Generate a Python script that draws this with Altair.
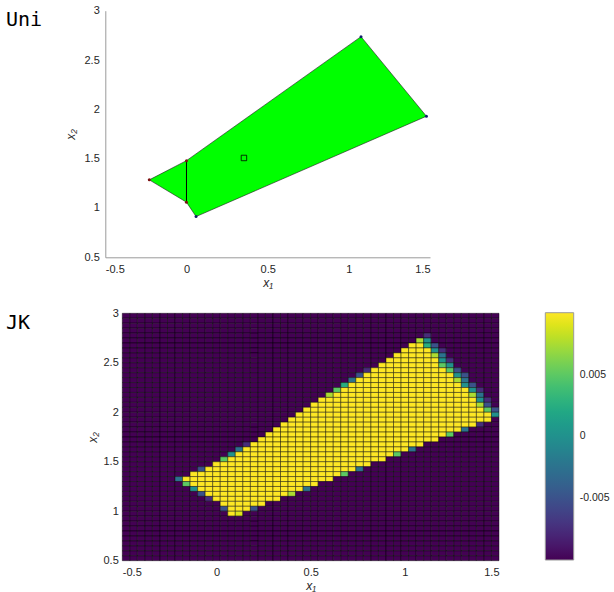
import altair as alt
import pandas as pd

# ---------------- top panel ("Uni") ----------------
poly_x = [-0.229, 0.0, 1.075, 1.478, 0.059, 0.0, -0.229]
poly_y = [1.285, 1.48, 2.737, 1.930, 0.913, 1.059, 1.285]
split_x = [0.0]
split_y1 = [1.059]
split_y2 = [1.48]
red_x = [-0.229, 0.0, 0.0]
red_y = [1.285, 1.48, 1.059]
blue_x = [1.075, 1.478, 0.059]
blue_y = [2.737, 1.930, 0.913]
mark_x = [0.354]
mark_y = [1.507]

# ---------------- bottom panel ("JK") ----------------
n_cols, n_rows = 50, 50
x_start, x_step = -0.5, 0.04
y_top, y_step = 3.0, 0.05
low_value, high_value = -0.01, 0.01
# rows counted from the top: (first, last) column of the saturated cells
yellow_span = {
    6: (38, 39), 7: (37, 40), 8: (36, 40), 9: (35, 41), 10: (34, 41),
    11: (33, 42), 12: (32, 43), 13: (31, 43), 14: (30, 44), 15: (29, 45),
    16: (28, 45), 17: (26, 46), 18: (25, 46), 19: (24, 47), 20: (23, 48),
    21: (22, 48), 22: (21, 46), 23: (20, 44), 24: (19, 42), 25: (18, 41),
    26: (17, 39), 27: (16, 37), 28: (15, 35), 29: (14, 34), 30: (12, 32),
    31: (11, 30), 32: (9, 28), 33: (8, 27), 34: (9, 25), 35: (10, 23),
    36: (11, 21), 37: (12, 20), 38: (13, 18), 39: (14, 16), 40: (14, 14),
}
level = {"a": -0.0075, "b": -0.005, "c": -0.0025, "d": 0.0,
         "e": 0.0025, "f": 0.005, "g": 0.0075, "h": 0.009}
edge_cells = [
    (11, 32, "a"), (12, 31, "b"), (13, 30, "c"), (14, 29, "e"), (15, 28, "f"),
    (16, 27, "g"), (26, 16, "a"), (27, 15, "c"), (28, 14, "d"), (29, 13, "f"),
    (31, 10, "b"), (33, 7, "c"), (34, 8, "f"), (35, 9, "d"), (36, 10, "b"),
    (37, 11, "a"), (39, 13, "b"),
    (4, 40, "a"), (5, 39, "g"), (5, 40, "d"), (6, 40, "e"), (6, 41, "b"),
    (7, 41, "d"), (7, 42, "a"), (8, 41, "g"), (8, 42, "c"), (9, 42, "d"),
    (9, 43, "a"), (10, 42, "f"), (10, 43, "d"), (11, 43, "f"), (11, 44, "b"),
    (12, 44, "d"), (12, 45, "b"), (13, 44, "g"), (13, 45, "c"), (14, 45, "d"),
    (14, 46, "b"), (15, 46, "d"), (15, 47, "a"), (16, 46, "g"), (16, 47, "c"),
    (17, 47, "d"), (17, 48, "a"), (18, 47, "g"), (18, 48, "b"), (19, 48, "f"),
    (19, 49, "b"), (20, 49, "d"),
    (22, 47, "a"), (23, 45, "c"), (24, 43, "f"), (27, 38, "c"), (28, 36, "f"),
    (31, 31, "c"), (32, 29, "f"), (35, 24, "c"), (36, 22, "g"), (39, 17, "b"),
    (40, 15, "h"),
]
cbar_ticks = [-0.005, 0.0, 0.005]
x_ticks = [-0.5, 0, 0.5, 1, 1.5]
y_ticks = [0.5, 1, 1.5, 2, 2.5, 3]

# ---------------- tables ----------------
poly_df = pd.DataFrame({"i": list(range(len(poly_x))), "x": poly_x, "y": poly_y})
split_df = pd.DataFrame({"x": split_x, "y": split_y1, "y2": split_y2})
red_df = pd.DataFrame({"x": red_x, "y": red_y})
blue_df = pd.DataFrame({"x": blue_x, "y": blue_y})
mark_df = pd.DataFrame({"x": mark_x, "y": mark_y})

values = {}
for r in range(n_rows):
    for c in range(n_cols):
        v = low_value
        if r in yellow_span and yellow_span[r][0] <= c <= yellow_span[r][1]:
            v = high_value
        values[(r, c)] = v
for r, c, k in edge_cells:
    values[(r, c)] = level[k]
cells = []
for (r, c), v in values.items():
    x0 = x_start + c * x_step
    y1 = y_top - r * y_step
    cells.append({"x0": x0, "x1": x0 + x_step, "y0": y1 - y_step, "y1": y1, "v": v})
heat_df = pd.DataFrame(cells)

# ---------------- styling ----------------
FONT = "Liberation Sans"
fix_minus = "replace(datum.label, '\u2212', '-')"


def axis(orient, offset, vals, title, lpad, domain=True, title_x=None, title_y=None):
    extra = {}
    if title_x is not None:
        extra["titleX"] = title_x
    if title_y is not None:
        extra["titleY"] = title_y
        extra["titleBaseline"] = "alphabetic"
    return alt.Axis(orient=orient, offset=offset, values=vals, title=title,
                    format="~g", grid=False, domain=domain, domainColor="#9a9a9a",
                    tickSize=0, labelPadding=lpad, labelFont=FONT,
                    labelFontSize=11, labelColor="#262626", labelExpr=fix_minus,
                    titleFont=FONT, titleFontSize=12, titleFontStyle="italic",
                    titleFontWeight="normal", titleColor="#262626", **extra)


W, H = 614, 592
tx = alt.X("x:Q", scale=alt.Scale(domain=[-0.5, 1.5], range=[105.3, 430]),
           axis=axis("bottom", 257.3 - H, x_ticks, "x\u2081", 6, title_y=29))
ty = alt.Y("y:Q", scale=alt.Scale(domain=[0.5, 3], range=[257.3, 10.7]),
           axis=axis("left", -105.3, y_ticks, "x\u2082", 6, title_x=-28))

poly = alt.Chart(poly_df).mark_line(fill="#00ff00", stroke="#1a1a1a",
                                    strokeWidth=0.6).encode(x=tx, y=ty, order="i:Q")
split = alt.Chart(split_df).mark_rule(color="black", strokeWidth=1).encode(
    x=tx, y=ty, y2="y2:Q")
red = alt.Chart(red_df).mark_point(filled=True, size=9, color="#7a1010",
                                   opacity=1).encode(x=tx, y=ty)
blue = alt.Chart(blue_df).mark_point(filled=True, size=9, color="#10206a",
                                     opacity=1).encode(x=tx, y=ty)
sq = alt.Chart(mark_df).mark_point(shape="square", filled=False, size=30,
                                   color="black", strokeWidth=0.8,
                                   opacity=1).encode(x=tx, y=ty)
uni = alt.Chart(pd.DataFrame({"t": ["Uni"]})).mark_text(
    font="DejaVu Sans Mono", fontSize=20, align="left", baseline="alphabetic",
    color="black").encode(text="t:N", x=alt.value(6), y=alt.value(26))
top = alt.layer(poly, split, red, blue, sq, uni)

bx = alt.X("x0:Q", scale=alt.Scale(domain=[-0.5, 1.5], range=[122.3, 499]),
           axis=axis("bottom", 560.7 - H, x_ticks, "x\u2081", 6, domain=False,
                     title_y=29))
by = alt.Y("y0:Q", scale=alt.Scale(domain=[0.5, 3], range=[560.7, 313.3]),
           axis=axis("left", -122.3, y_ticks, "x\u2082", 4, domain=False,
                     title_x=-23))
heat = alt.Chart(heat_df).mark_rect(stroke="black", strokeWidth=0.6,
                                    strokeOpacity=0.75).encode(
    x=bx, x2="x1:Q", y=by, y2="y1:Q",
    color=alt.Color("v:Q", scale=alt.Scale(scheme="viridis", domain=[low_value, high_value]),
                    legend=alt.Legend(orient="none", legendX=545.3, legendY=312.7,
                                      direction="vertical", title=None, format="~g",
                                      gradientLength=247.3, gradientThickness=28.4,
                                      gradientStrokeColor="#9a9a9a", gradientStrokeWidth=1,
                                      values=cbar_ticks, labelFont=FONT, labelFontSize=10.5,
                                      labelColor="#262626", labelOffset=6,
                                      labelExpr=fix_minus)))
jk = alt.Chart(pd.DataFrame({"t": ["JK"]})).mark_text(
    font="DejaVu Sans Mono", fontSize=20, align="left", baseline="alphabetic",
    color="black").encode(text="t:N", x=alt.value(6), y=alt.value(329))
bottom = alt.layer(heat, jk)

chart = alt.layer(top, bottom).resolve_scale(
    x="independent", y="independent").resolve_axis(
    x="independent", y="independent").properties(
    width=W, height=H, padding=0, autosize=alt.AutoSizeParams(type="none"),
    background="white").configure_view(stroke=None)

chart.save("out.html", embed_options={"renderer": "svg", "actions": False})
